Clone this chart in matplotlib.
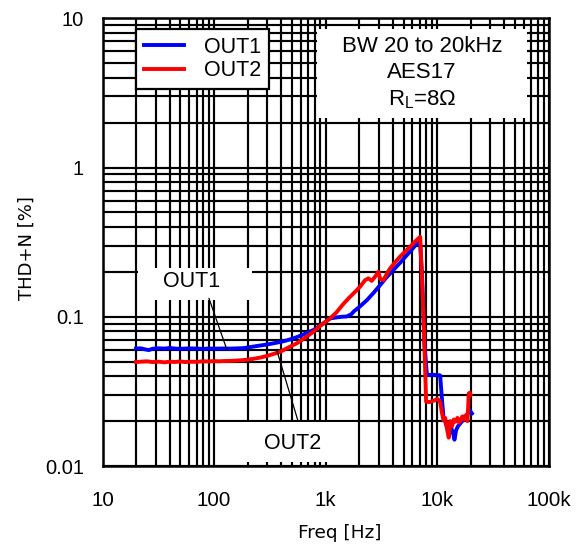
import matplotlib
matplotlib.use("Agg")
import matplotlib.pyplot as plt
from matplotlib.patches import Rectangle
from matplotlib.ticker import FixedLocator, FixedFormatter, LogLocator, NullFormatter

plt.rcParams['font.family'] = ['Liberation Sans', 'DejaVu Sans']
plt.rcParams['mathtext.fontset'] = 'custom'
plt.rcParams['mathtext.rm'] = 'Liberation Sans'
plt.rcParams['mathtext.it'] = 'Liberation Sans:italic'

# ---- data ----
out1_freq = [20, 22, 24, 26, 28, 32, 36, 40, 45, 50, 60, 70, 80, 90, 100, 120, 140, 160, 180,
             200, 230, 260, 300, 341, 400, 450, 514, 600, 680, 778, 880, 1000, 1100, 1250, 1400,
             1550, 1700, 1800, 2000, 2340, 2700, 3080, 3500, 4060, 4700, 5350, 6000, 6790, 7000,
             7300, 7700, 8100, 9000, 10000, 10640, 11000, 11400, 11900, 12400, 12900, 13400,
             13900, 14300, 14800, 15400, 16200, 16800, 17500, 18200, 18800, 19500, 20500]
out1_thd = [0.0612, 0.0615, 0.0605, 0.0598, 0.0610, 0.0615, 0.0612, 0.0618, 0.0612, 0.0610,
            0.0614, 0.0612, 0.0609, 0.0613, 0.0611, 0.0613, 0.0612, 0.0614, 0.0616,
            0.0622, 0.0633, 0.0642, 0.0652, 0.0664, 0.0680, 0.0695, 0.0716, 0.0748, 0.0780,
            0.0815, 0.0865, 0.0925, 0.0975, 0.0990, 0.1000, 0.1005, 0.1040, 0.1090, 0.1160,
            0.129, 0.145, 0.163, 0.183, 0.206, 0.232, 0.259, 0.285, 0.318, 0.328,
            0.200, 0.065, 0.0407, 0.0408, 0.0407, 0.0405, 0.0290, 0.0212, 0.0195, 0.0178,
            0.0195, 0.0180, 0.0165, 0.0150, 0.0174, 0.0185, 0.0194, 0.0200, 0.0215, 0.0205,
            0.0225, 0.0237, 0.0225]

out2_freq = [20, 22, 25, 28, 32, 36, 40, 45, 50, 55, 60, 70, 80, 90, 100, 110, 120, 140, 160,
             180, 200, 230, 260, 297, 340, 391, 450, 500, 552, 650, 778, 900, 1000, 1097, 1250,
             1445, 1640, 1840, 2050, 2260, 2420, 2590, 2800, 2975, 3080, 3300, 3550, 3785, 4200,
             4650, 5200, 5720, 6300, 6790, 7050, 7570, 7960, 8500, 9000, 9500, 10000, 10400,
             10700, 11000, 11380, 11800, 12200, 12700, 13100, 13600, 14100, 14600, 15200,
             15800, 16200, 16800, 17500, 18200, 18700, 19200, 19600, 20000]
out2_thd = [0.0497, 0.0500, 0.0503, 0.0497, 0.0500, 0.0495, 0.0500, 0.0498, 0.0502, 0.0497,
            0.0500, 0.0499, 0.0503, 0.0502, 0.0505, 0.0503, 0.0505, 0.0506, 0.0509,
            0.0512, 0.0516, 0.0524, 0.0533, 0.0546, 0.0563, 0.0582, 0.0615, 0.0640, 0.0664,
            0.0720, 0.0794, 0.0875, 0.0925, 0.0975, 0.107, 0.122, 0.135, 0.147, 0.160,
            0.176, 0.181, 0.174, 0.187, 0.200, 0.180, 0.176, 0.195, 0.211, 0.232,
            0.253, 0.275, 0.294, 0.318, 0.335, 0.343, 0.095, 0.0270, 0.0268, 0.0272, 0.0275,
            0.0282, 0.0275, 0.0264, 0.0230, 0.0203, 0.0210, 0.0180, 0.0155, 0.0200, 0.0185,
            0.0205, 0.0198, 0.0210, 0.0195, 0.0203, 0.0215, 0.0205, 0.0220, 0.0200, 0.0306,
            0.0310, 0.0300]

x_ticks = [10, 100, 1000, 10000, 100000]
x_ticklabels = ['10', '100', '1k', '10k', '100k']
y_ticks = [0.01, 0.1, 1, 10]
y_ticklabels = ['0.01', '0.1', '1', '10']
series_labels = ['OUT1', 'OUT2']
info_lines = ['BW 20 to 20kHz', 'AES17', 'R$_\\mathrm{L}$=8Ω']

# ---- figure ----
fig = plt.figure(figsize=(5.87, 5.46), dpi=100)
ax = fig.add_axes([102.5 / 587, 1 - 466 / 546, 446.2 / 587, 447.7 / 546])
ax.set_xscale('log')
ax.set_yscale('log')
ax.set_xlim(10, 100000)
ax.set_ylim(0.01, 10)

ax.xaxis.set_major_locator(FixedLocator(x_ticks))
ax.xaxis.set_major_formatter(FixedFormatter(x_ticklabels))
ax.yaxis.set_major_locator(FixedLocator(y_ticks))
ax.yaxis.set_major_formatter(FixedFormatter(y_ticklabels))
ax.xaxis.set_minor_locator(LogLocator(base=10, subs=range(2, 10)))
ax.yaxis.set_minor_locator(LogLocator(base=10, subs=range(2, 10)))
ax.xaxis.set_minor_formatter(NullFormatter())
ax.yaxis.set_minor_formatter(NullFormatter())

ax.set_axisbelow(True)
ax.grid(True, which='both', color='black', linewidth=1.55)
ax.tick_params(which='both', length=0)
ax.tick_params(axis='x', pad=18, labelsize=14.8)
ax.tick_params(axis='y', pad=13.5, labelsize=14.5)
for s in ax.spines.values():
    s.set_linewidth(1.8)
    s.set_color('black')

l1, = ax.plot(out1_freq, out1_thd, color='#0000ff', lw=2.8, zorder=3, label=series_labels[0])
l2, = ax.plot(out2_freq, out2_thd, color='#ff0000', lw=2.8, zorder=3.1, label=series_labels[1])

ax.set_xlabel('Freq [Hz]', family=['DejaVu Sans'], fontsize=13.3, va='center', ha='center')
ax.xaxis.set_label_coords(0.532, -0.1497)
ax.set_ylabel('THD+N [%]', family=['DejaVu Sans'], fontsize=13, va='center', ha='center')
ax.yaxis.set_label_coords(-0.169, 0.487)

# legend
leg = ax.legend(loc='upper left', bbox_to_anchor=(0.0751, 0.976), borderaxespad=0,
                fontsize=15.5, borderpad=0.35, labelspacing=0.12, handlelength=1.9,
                handletextpad=0.93, fancybox=False, edgecolor='black', framealpha=1)
leg.get_frame().set_linewidth(1.6)
leg.set_zorder(6)

# info box
ax.add_patch(Rectangle((0.4807, 0.777), 0.4703, 0.199, transform=ax.transAxes,
                       facecolor='white', edgecolor='none', zorder=2.5))
for t, yy in zip(info_lines, [0.936, 0.878, 0.819]):
    ax.text(0.716, yy, t, transform=ax.transAxes, ha='center', va='center',
            fontsize=16, zorder=5)

# OUT1 annotation
ax.add_patch(Rectangle((0.0796, 0.3708), 0.2554, 0.0715, transform=ax.transAxes,
                       facecolor='white', edgecolor='none', zorder=2.5))
ax.text(0.2, 0.4117, series_labels[0], transform=ax.transAxes, ha='center', va='center',
        fontsize=15.5, zorder=5)
ax.annotate('', xy=(130, 0.0605), xytext=(90, 0.133),
            arrowprops=dict(arrowstyle='-', color='black', lw=0.9, shrinkA=0, shrinkB=0),
            zorder=4)

# OUT2 annotation
ax.add_patch(Rectangle((0.2566, 0.0096), 0.3134, 0.0894, transform=ax.transAxes,
                       facecolor='white', edgecolor='none', zorder=2.5))
ax.text(0.427, 0.0507, series_labels[1], transform=ax.transAxes, ha='center', va='center',
        fontsize=15.5, zorder=5)
ax.annotate('', xy=(367, 0.0589), xytext=(566, 0.020),
            arrowprops=dict(arrowstyle='-', color='black', lw=0.9, shrinkA=0, shrinkB=0),
            zorder=4)

fig.savefig('out.png', dpi=100)
